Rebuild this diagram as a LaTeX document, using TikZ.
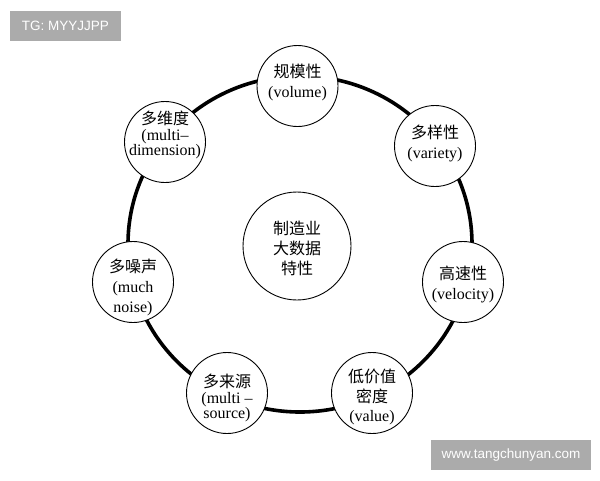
\documentclass[tikz,border=0pt]{standalone}
\usepackage{fontspec}
\setmainfont{Liberation Serif}
\newfontfamily\cjk{Noto Sans CJK SC}
\newfontfamily\wmfont{Liberation Sans}
\begin{document}
\begin{tikzpicture}[x=1pt,y=-1pt,
  feat/.style={circle,draw=black,line width=0.9pt,fill=white,minimum size=81pt,inner sep=0pt},
  hub/.style={circle,draw=black,line width=0.9pt,fill=white,minimum size=108pt,inner sep=0pt},
  ftext/.style={align=center,inner sep=0pt,font=\fontsize{16}{#1}\selectfont},
  ftext/.default=20,
  htext/.style={align=center,inner sep=0pt,font=\cjk\fontsize{16}{20}\selectfont},
  ring/.style={line width=3.6pt,draw=black},
  wm/.style={fill=wmgray,text=white,inner sep=0pt,font=\wmfont\fontsize{13.5}{16}\selectfont}]
\definecolor{wmgray}{HTML}{ABABAB}
\useasboundingbox (0,0) rectangle (600,480);
\fill[white] (0,0) rectangle (600,480);
% ring
\coordinate (rc) at (300,244);
\draw[ring] (rc) ellipse [x radius=172, y radius=168];
% feature circles
\node[feat] (vol) at (297.5,86) {};
\node[feat] (dim) at (165,142) {};
\node[feat] (var) at (435,146) {};
\node[feat] (vel) at (463,282) {};
\node[feat] (val) at (372,393) {};
\node[feat] (src) at (227,393) {};
\node[feat] (noi) at (133,282) {};
\node[hub]  (hub) at (297,246) {};
% texts
\node[ftext] (tvol) at (vol.center) [yshift=4pt] {{\cjk 规模性}\\(volume)};
\node[ftext=15.5] (tdim) at (dim.center) [yshift=7pt] {{\cjk 多维度}\\(multi–\\dimension)};
\node[ftext] (tvar) at (var.center) [yshift=3pt] {{\cjk 多样性}\\(variety)};
\node[ftext] (tvel) at (vel.center) [yshift=-2pt] {{\cjk 高速性}\\(velocity)};
\node[ftext=19.5] (tval) at (val.center) [yshift=-4pt] {{\cjk 低价值}\\{\cjk 密度}\\(value)};
\node[ftext=15.5] (tsrc) at (src.center) [yshift=-5pt] {{\cjk 多来源}\\(multi –\\source)};
\node[ftext] (tnoi) at (noi.center) [yshift=-5pt] {{\cjk 多噪声}\\(much\\noise)};
\node[htext] (thub) at (hub.center) [yshift=-2pt] {制造业\\大数据\\特性};
% watermarks
\node[wm,minimum width=111pt,minimum height=30pt] (wm1) at (65.5,25.5) {TG: MYYJJPP};
\node[wm,minimum width=160pt,minimum height=30pt] (wm2) at (511,455) {www.tangchunyan.com};
\end{tikzpicture}
\end{document}
